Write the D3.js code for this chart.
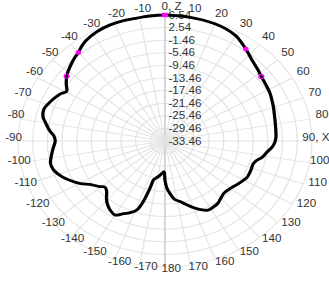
<!DOCTYPE html>
<html><head><meta charset="utf-8">
<script src="https://cdn.jsdelivr.net/npm/d3@7"></script>
<style>html,body{margin:0;padding:0;background:#fff;}svg{display:block;}</style>
</head><body>
<svg id="chart" width="329" height="282" viewBox="0 0 282 282" preserveAspectRatio="none"></svg>
<script>
// Pattern data (angle in degrees clockwise from 0,Z ; gain in dB)
const angleDeg = [0,5,10,15,20,25,30,34,37,40,43,48,52,57,62,66,70,75,80,85,88,91,94,97,101,104,107,110,113,117,120,124,128,132,136,140,144,148,152,156,160,164,168,172,175,178,180,181.5,185,190,194,195,196,197,199,202,206,210,214,218,221,225,228,231,235,240,244,248,253,257,262,266,270,273,276,280,283,287,291,295,298,300.5,304,307.6,311,314,317,320,323,326,332,338,344,349,354];
const gainDb   = [6.54,6.45,6.42,6.3,6.15,5.8,5.1,4.0,3.1,2.2,1.4,0.5,-0.2,-0.7,-1.1,-1.6,-2.05,-2.6,-2.95,-3.15,-3.25,-3.6,-4.3,-5.4,-6.5,-7.8,-8.4,-8.35,-8.3,-8.3,-8.7,-9.3,-9.9,-10.3,-10.4,-9.8,-9.0,-8.7,-8.6,-9.6,-11.0,-12.5,-13.8,-14.8,-16.5,-18.5,-21.0,-23.7,-23.0,-21.8,-20.8,-18.5,-16,-13.5,-10.5,-9.0,-7.8,-6.3,-6.9,-8.0,-9.2,-11.0,-11.5,-10.5,-9.2,-6.6,-4.8,-3.2,-1.8,-1.5,-2.3,-3.0,-3.6,-3.2,-1.9,-0.5,0.6,1.0,0.3,-0.6,-1.4,-2.4,-1.05,0.3,1.2,1.9,2.6,3.2,4.2,5.0,5.9,6.3,6.38,6.3,6.44];
// Markers
const markerAngle = [0, 37, 320, 52, 307.6];
const markerGain  = [6.54, 3.1, 3.2, -0.2, 0.3];
const markerType  = ["square","filled","filled","hollow","hollow"];
// Axis ticks
const radialTicks = [6.54,2.54,-1.46,-5.46,-9.46,-13.46,-17.46,-21.46,-25.46,-29.46,-33.46];
const angleTicks = [0,10,20,30,40,50,60,70,80,90,100,110,120,130,140,150,160,170,180,-170,-160,-150,-140,-130,-120,-110,-100,-90,-80,-70,-60,-50,-40,-30,-20,-10];
const angleTickLabels = angleTicks.map(a => a===0 ? "0, Z" : a===90 ? "90, X" : String(a));

const VB = 282, cx = 141.4, cy = 141;
const rMin = -33.46, rMax = 6.54;
const r = d3.scaleLinear().domain([rMin, rMax]).range([0, 126]);
const rad = d => d * Math.PI / 180;

const svg = d3.select("#chart");
const g = svg.append("g").attr("transform", `translate(${cx},${cy})`);

// rings
g.append("g").selectAll("circle").data(radialTicks.filter(t => t > rMin)).join("circle")
  .attr("r", d => r(d)).attr("fill", "none").attr("stroke", "#e3e3e3").attr("stroke-width", 1);
// spokes
const spokes = d3.range(0, 360, 10);
g.append("g").selectAll("line").data(spokes).join("line")
  .attr("x1", 0).attr("y1", 0)
  .attr("x2", d => r(rMax) * Math.sin(rad(d)))
  .attr("y2", d => -r(rMax) * Math.cos(rad(d)))
  .attr("stroke", d => (d % 180 === 0) ? "#d6d6d6" : "#e3e3e3")
  .attr("stroke-width", d => (d % 180 === 0) ? 1.8 : 1);

// radial labels
g.append("g").selectAll("text").data(radialTicks).join("text")
  .attr("x", 3).attr("y", d => -r(d) + 3.6)
  .attr("font-family", "Liberation Sans, Arial, sans-serif").attr("font-size", 10)
  .attr("fill", "#333").text(d => d.toFixed(2));

// angle labels
const al = g.append("g").selectAll("text").data(angleTicks).join("text")
  .attr("x", d => -3 + 134 * Math.sin(rad(d)))
  .attr("y", d => -131.5 * Math.cos(rad(d)))
  .attr("font-family", "Liberation Sans, Arial, sans-serif").attr("font-size", 10)
  .attr("fill", "#333").text((d, i) => angleTickLabels[i]);
al.each(function() {
  const w = this.getComputedTextLength();
  const x = +this.getAttribute("x");
  const maxX = VB - cx - w + 0.5;
  if (x > maxX) this.setAttribute("x", maxX);
});

// pattern curve
const pts = angleDeg.map((a, i) => ({a, v: gainDb[i]}));
const line = d3.lineRadial().angle(d => rad(d.a)).radius(d => r(d.v)).curve(d3.curveCatmullRomClosed.alpha(0.5));
g.append("path").datum(pts).attr("d", line).attr("fill", "none")
  .attr("stroke", "#000").attr("stroke-width", 2.8).attr("stroke-linejoin", "round");

// markers
markerAngle.forEach((a, i) => {
  const x = r(markerGain[i]) * Math.sin(rad(a)), y = -r(markerGain[i]) * Math.cos(rad(a));
  if (markerType[i] === "square") {
    g.append("rect").attr("x", x - 2.6).attr("y", y - 2.2).attr("width", 5.2).attr("height", 4.4).attr("fill", "#ff00ff");
  } else if (markerType[i] === "filled") {
    g.append("circle").attr("cx", x).attr("cy", y).attr("r", 2.3).attr("fill", "#ff00ff");
  } else {
    g.append("circle").attr("cx", x).attr("cy", y).attr("r", 2.1).attr("fill", "none").attr("stroke", "#ff00ff").attr("stroke-width", 1.1);
  }
});
</script>
</body></html>
